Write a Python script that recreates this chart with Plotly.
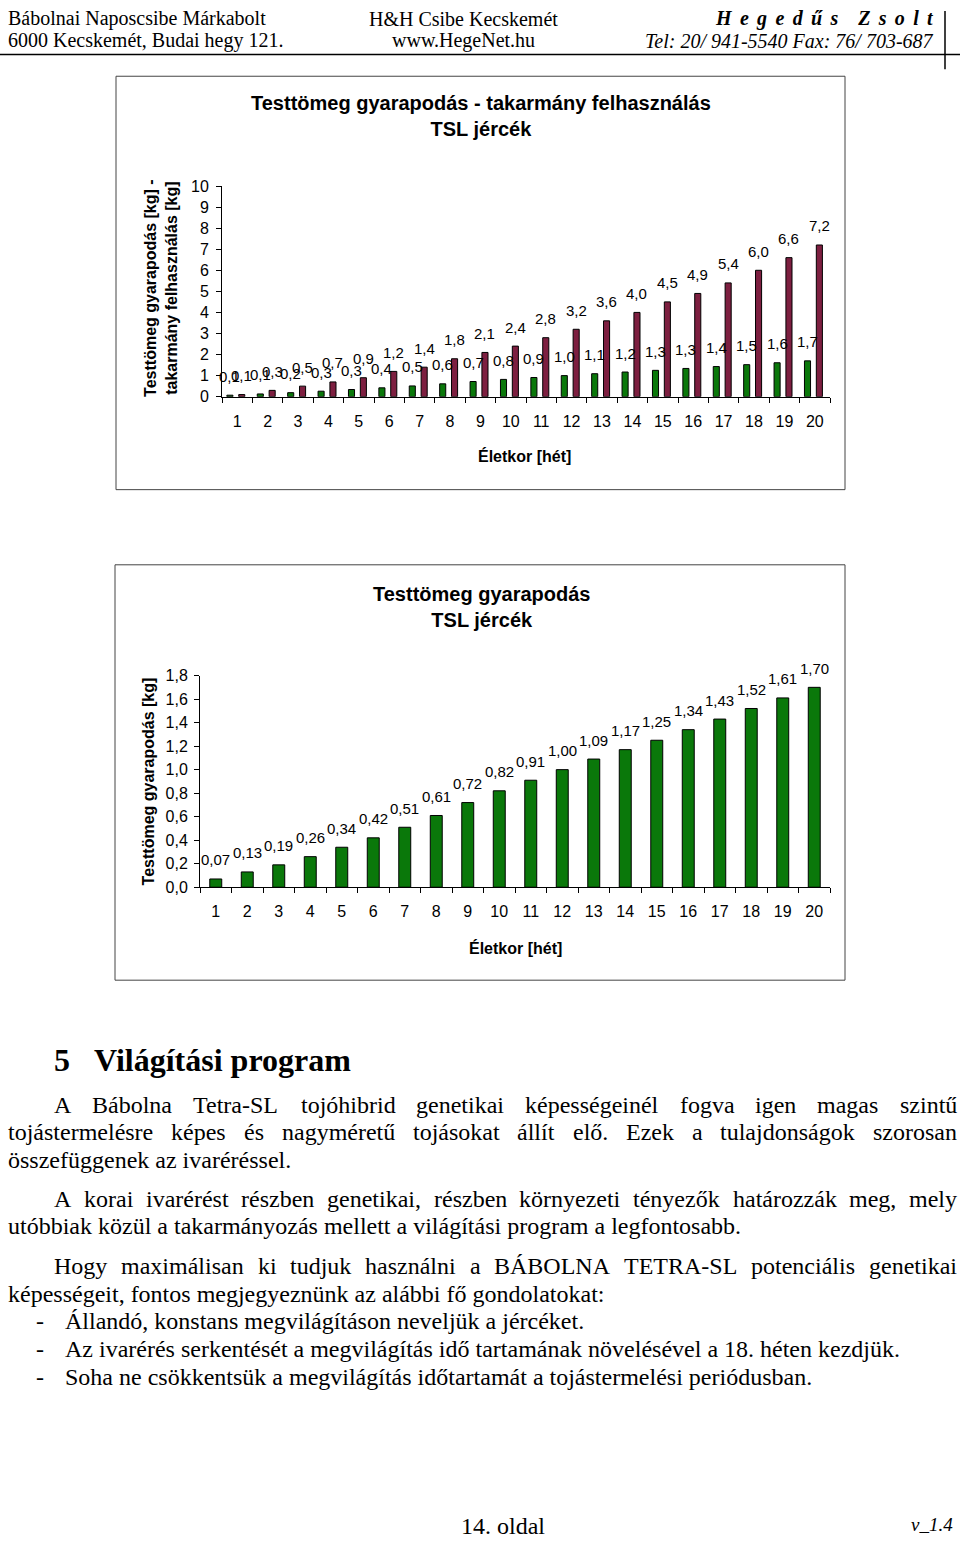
import plotly.graph_objects as go
from decimal import Decimal, ROUND_HALF_UP

W, H = 960, 1545

# ---------------- data ----------------
weeks = [str(i) for i in range(1, 21)]
gain_kg = [0.07, 0.13, 0.19, 0.26, 0.34, 0.42, 0.51, 0.61, 0.72, 0.82,
           0.91, 1.00, 1.09, 1.17, 1.25, 1.34, 1.43, 1.52, 1.61, 1.70]
feed_kg = [0.1, 0.3, 0.5, 0.7, 0.9, 1.2, 1.4, 1.8, 2.1, 2.4,
           2.8, 3.2, 3.6, 4.0, 4.5, 4.9, 5.4, 6.0, 6.6, 7.2]

chart1_title = "Testtömeg gyarapodás - takarmány felhasználás<br>TSL jércék"
chart1_ytitle = "Testtömeg gyarapodás [kg] -<br>takarmány felhasználás [kg]"
chart2_title = "Testtömeg gyarapodás<br>TSL jércék"
chart2_ytitle = "Testtömeg gyarapodás [kg]"
xtitle = "Életkor [hét]"

header_left = ["Bábolnai Naposcsibe Márkabolt", "6000 Kecskemét, Budai hegy 121."]
header_mid = ["H&H Csibe Kecskemét", "www.HegeNet.hu"]
header_name = "Hegedűs Zsolt"
header_phone = "Tel: 20/ 941-5540 Fax: 76/ 703-687"

heading = "5   Világítási program"
para1_just = ["A Bábolna Tetra-SL tojóhibrid genetikai képességeinél fogva igen magas szintű",
              "tojástermelésre képes és nagyméretű tojásokat állít elő. Ezek a tulajdonságok szorosan"]
para1_last = "összefüggenek az ivaréréssel."
para2_just = "A korai ivarérést részben genetikai, részben környezeti tényezők határozzák meg, mely"
para2_last = "utóbbiak közül a takarmányozás mellett a világítási program a legfontosabb."
para3_just = "Hogy maximálisan ki tudjuk használni a BÁBOLNA TETRA-SL potenciális genetikai"
para3_last = "képességeit, fontos megjegyeznünk az alábbi fő gondolatokat:"
bullets = ["Állandó, konstans megvilágításon neveljük a jércéket.",
           "Az ivarérés serkentését a megvilágítás idő tartamának növelésével a 18. héten kezdjük.",
           "Soha ne csökkentsük a megvilágítás időtartamát a tojástermelési periódusban."]
footer_page = "14. oldal"
footer_ver = "v_1.4"

# ---------------- styles ----------------
GREEN = "#0a780a"
MAROON = "#7d1f40"
SANS = "Liberation Sans, Arial, sans-serif"
SERIF = "Liberation Serif, Times New Roman, serif"


def fmt(v, nd):
    q = Decimal(1).scaleb(-nd)
    return str(Decimal(str(v)).quantize(q, rounding=ROUND_HALF_UP)).replace(".", ",")


def px(x):  # page pixel -> paper fraction
    return x / W


def py(y):
    return 1 - y / H


fig = go.Figure()

# chart 1 bars
G_OFF, G_W = -0.34, 0.2
M_OFF, M_W = 0.05, 0.2
fig.add_bar(x=weeks, y=gain_kg, offset=G_OFF, width=G_W, xaxis="x", yaxis="y",
            marker=dict(color=GREEN, line=dict(color="black", width=1)), hoverinfo="skip")
fig.add_bar(x=weeks, y=feed_kg, offset=M_OFF, width=M_W, xaxis="x", yaxis="y",
            marker=dict(color=MAROON, line=dict(color="black", width=1)), hoverinfo="skip")

# chart 2 bars
B_OFF, B_W = -0.19, 0.38
fig.add_bar(x=weeks, y=gain_kg, offset=B_OFF, width=B_W, xaxis="x2", yaxis="y2",
            marker=dict(color=GREEN, line=dict(color="black", width=1)), hoverinfo="skip")

ann = []
lab_font = dict(family=SANS, size=15, color="black")
for i, v in enumerate(gain_kg):
    ann.append(dict(x=i + G_OFF + G_W / 2, y=v, xref="x", yref="y", text=fmt(v, 1),
                    showarrow=False, yshift=19, font=lab_font))
for i, v in enumerate(feed_kg):
    ann.append(dict(x=i + M_OFF + M_W / 2, y=v, xref="x", yref="y", text=fmt(v, 1),
                    showarrow=False, yshift=19, font=lab_font))
for i, v in enumerate(gain_kg):
    ann.append(dict(x=i + B_OFF + B_W / 2, y=v, xref="x2", yref="y2", text=fmt(v, 2),
                    showarrow=False, yshift=19, font=lab_font))


def txt(x, y, s, size, anchor="left", family=SERIF, angle=0, color="black"):
    ann.append(dict(x=px(x), y=py(y), xref="paper", yref="paper", text=s, showarrow=False,
                    xanchor=anchor, yanchor="middle", textangle=angle,
                    font=dict(family=family, size=size, color=color)))


# chart titles / axis titles
txt(481, 109, "<b>" + chart1_title + "</b>", 20, "center", SANS)
txt(161, 283, "<b>" + chart1_ytitle + "</b>", 16, "center", SANS, angle=-90)
txt(524, 453, "<b>" + xtitle + "</b>", 16, "center", SANS)
txt(481, 606, "<b>" + chart2_title + "</b>", 20, "center", SANS)
txt(148, 782, "<b>" + chart2_ytitle + "</b>", 16, "center", SANS, angle=-90)
txt(515, 950, "<b>" + xtitle + "</b>", 16, "center", SANS)

# header
txt(6, 11, header_left[0], 20)
txt(6, 33, header_left[1], 20)
txt(463, 11, header_mid[0], 20, "center")
txt(463, 33, header_mid[1], 20, "center")
name_spaced = ("\u00a0" * 4).join(("\u00a0\u2006").join(list(w)) for w in header_name.split(" "))
txt(936, 11, "<b><i>" + name_spaced + "</i></b>", 20, "right")
txt(936, 33, "<i>" + header_phone + "</i>", 20, "right")

# Times New Roman advance widths (1/1000 em)
TW = dict(zip("abcdefghijklmnopqrstuvwxyz",
              [444, 500, 444, 500, 444, 333, 500, 500, 278, 278, 500, 278, 778, 500, 500,
               500, 500, 333, 389, 278, 500, 500, 722, 500, 500, 444]))
TW.update(dict(zip("ABCDEFGHIJKLMNOPQRSTUVWXYZ",
                   [722, 667, 667, 722, 611, 556, 722, 722, 333, 389, 722, 611, 889, 722, 722,
                    556, 722, 667, 556, 611, 722, 722, 944, 722, 722, 611])))
TW.update({"-": 333, ",": 250, ".": 250, ":": 278, " ": 250})
ACC = str.maketrans("áéíóöőúüűÁÉÍÓÖŐÚÜŰ", "aeiooouuuAEIOOOUUU")


def wwidth(word, size):
    return sum(TW.get(c, 500) for c in word.translate(ACC)) * size / 1000


BODY = 24


def justify(line, y, x0, x1):
    words = line.split(" ")
    ws = [wwidth(w, BODY) for w in words]
    gap = (x1 - x0 - sum(ws)) / (len(words) - 1)
    x = x0
    for w, wd in zip(words, ws):
        txt(x, y, w, BODY)
        x += wd + gap


txt(52, 1064, "<b>" + heading.replace(" ", "\u00a0") + "</b>", 32)
justify(para1_just[0], 1109, 52, 955)
justify(para1_just[1], 1137, 6, 955)
txt(6, 1165, para1_last, BODY)
justify(para2_just, 1204, 52, 955)
txt(6, 1232, para2_last, BODY)
justify(para3_just, 1272, 52, 955)
txt(6, 1300, para3_last, BODY)
for k, b in enumerate(bullets):
    yb = 1328 + 28 * k
    txt(34, yb, "-", BODY)
    txt(63, yb, b, BODY)
txt(503, 1535, footer_page, BODY, "center")
txt(955, 1533, "<i>" + footer_ver + "</i>", 19, "right")

shapes = [
    dict(type="rect", xref="paper", yref="paper", x0=px(116), x1=px(845), y0=py(487), y1=py(69),
         line=dict(color="#444", width=1)),
    dict(type="rect", xref="paper", yref="paper", x0=px(115), x1=px(845), y0=py(983), y1=py(563),
         line=dict(color="#444", width=1)),
    dict(type="line", xref="paper", yref="paper", x0=0, x1=1, y0=py(47), y1=py(47),
         line=dict(color="black", width=1.5)),
    dict(type="line", xref="paper", yref="paper", x0=px(945), x1=px(945), y0=py(3), y1=py(62),
         line=dict(color="black", width=1.5)),
]

axis_common = dict(showline=True, linecolor="black", linewidth=1, ticks="outside", ticklen=5,
                   tickcolor="black", showgrid=False, zeroline=False,
                   tickfont=dict(family=SANS, size=16, color="black"), fixedrange=True)

fig.update_layout(
    width=W, height=H, margin=dict(l=0, r=0, t=0, b=0), autosize=False,
    paper_bgcolor="white", plot_bgcolor="white", showlegend=False,
    barmode="overlay", separators=", ",
    xaxis=dict(domain=[px(222), px(830)], anchor="y", type="category", tickson="boundaries",
               range=[-0.5, 19.5], ticklabelstandoff=10, **axis_common),
    yaxis=dict(domain=[py(393), py(180)], anchor="x", range=[0, 10], dtick=1,
               ticklabelstandoff=4, **axis_common),
    xaxis2=dict(domain=[px(200), px(830)], anchor="y2", type="category", tickson="boundaries",
                range=[-0.5, 19.5], ticklabelstandoff=10, **axis_common),
    yaxis2=dict(domain=[py(889), py(675)], anchor="x2", range=[0, 1.8], dtick=0.2,
                tickformat=".1f", ticklabelstandoff=3, **axis_common),
    annotations=ann, shapes=shapes,
)

# remove the browser's default 8px body margin so the 960x1545 figure fills the page
fig.write_html("out.html", config={"displayModeBar": False, "staticPlot": True},
               post_script="document.body.style.margin='0';document.body.style.overflow='hidden';")
